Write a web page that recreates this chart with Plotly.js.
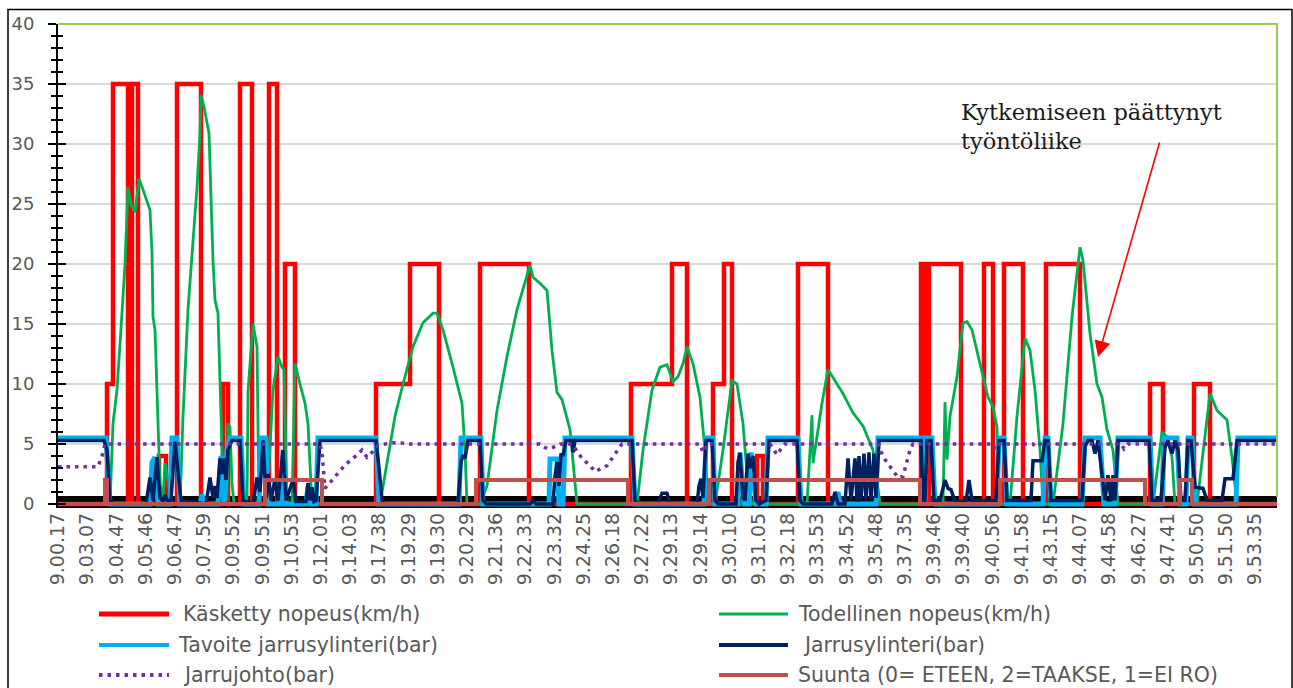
<!DOCTYPE html>
<html><head><meta charset="utf-8">
<script src="https://cdn.plot.ly/plotly-3.0.1.min.js"></script>
<style>html,body{margin:0;padding:0;background:#fff;}#chart{width:1293px;height:688px;}</style>
</head><body><div id="chart"></div>
<script>
// ---- data (x = sample index, y = value) ----
const timeLabels = ['9.00.17','9.03.07','9.04.47','9.05.46','9.06.47','9.07.59','9.09.52','9.09.51','9.10.53','9.12.01','9.14.03','9.17.38','9.19.29','9.19.30','9.20.29','9.21.36','9.22.33','9.23.32','9.24.25','9.26.18','9.27.22','9.29.13','9.29.14','9.30.10','9.31.05','9.32.18','9.33.53','9.34.52','9.35.48','9.37.35','9.39.46','9.39.40','9.40.56','9.41.58','9.43.15','9.44.07','9.44.58','9.46.27','9.47.41','9.50.50','9.51.50','9.53.35'];
const samplesPerLabel = 29.2;
const lastSample = 1219;

const kasketty = [[0,0],[49,10],[55,35],[70,0],[74,35],[80,0],[101,4],[108,0],[119,35],[143,0],[165,10],[170,0],[182,35],[194,0],[211,35],[219,0],[227,20],[237,0],[318,10],[352,20],[381,0],[422,20],[471,0],[573,10],[614,20],[629,0],[655,10],[666,20],[674,0],[699,4],[705,0],[740,20],[770,0],[863,20],[867,0],[871,20],[903,0],[926,20],[935,0],[946,20],[965,0],[988,20],[1022,0],[1092,10],[1105,0],[1136,10],[1152,0],[1219,0]];

const todellinen = [[0,0],[52,0],[55,6.7],[59,9.5],[64,15.9],[67,20],[70,26.4],[73,25],[77,24.3],[81,27.1],[85,26.2],[92,24.5],[94,20.9],[95,15.6],[97,14.5],[102,1.7],[105,0.4],[107,3.4],[110,2],[114,0],[122,0],[125,7.3],[130,16.2],[134,20.6],[139,26.4],[142,30.9],[143,34.1],[146,33.1],[151,30.9],[155,20.3],[157,17],[160,15.9],[162,9.4],[165,1.7],[169,0.3],[170,6.7],[172,6.4],[174,1.7],[176,0],[189,0],[190,9.4],[194,13.9],[195,15],[199,13.1],[201,0],[209,0],[215,9.5],[220,12.3],[224,11.4],[226,11.2],[229,0],[234,0],[237,11.7],[242,10],[247,8.4],[250,6.7],[254,0],[322,0],[329,3.4],[337,7.3],[345,10],[355,13.1],[365,15.1],[375,15.9],[379,15.9],[385,14.5],[395,11.4],[404,8.4],[407,4.5],[409,0],[422,0],[429,1.5],[439,7.8],[449,12.3],[459,16.2],[467,18.4],[472,19.9],[475,18.9],[482,18.4],[489,17.8],[494,12.8],[499,9.3],[504,8.7],[512,6.2],[519,0],[579,0],[585,4.5],[594,9.5],[602,11.4],[609,11.6],[615,10.2],[620,10.6],[625,11.7],[629,13.1],[635,11.7],[642,8.9],[647,4.5],[650,0],[657,0],[665,4.5],[674,10.3],[679,10],[685,6.7],[690,1.5],[694,0],[749,0],[754,7.4],[755,3.4],[759,5.6],[764,8.4],[770,11.2],[777,10.3],[785,9.2],[795,7.6],[805,6.5],[815,4.5],[822,0],[885,0],[887,8.5],[889,3.7],[892,7.3],[899,10.6],[905,15.1],[909,15.2],[914,14.5],[922,11.7],[930,8.9],[935,8.1],[939,6.4],[941,0],[952,0],[959,7.3],[967,13.8],[972,12.8],[977,9.5],[982,4.5],[985,0],[995,0],[1005,6.7],[1014,15.6],[1019,19.5],[1022,21.4],[1025,20.3],[1032,14.2],[1039,10],[1044,8.9],[1049,6.2],[1055,4.5],[1060,0],[1095,0],[1104,6],[1109,5.6],[1114,3.9],[1117,0],[1139,0],[1145,4.5],[1152,9.2],[1159,7.8],[1165,7.3],[1169,7],[1174,3.9],[1179,0],[1219,0]];

const tavoite = [[0,5.5],[48,5.5],[52,0],[92,0],[94,3.5],[97,3.9],[100,0],[112,0],[114,5.5],[119,5.5],[122,0],[142,0],[144,0.8],[146,0],[160,0],[163,4],[166,0],[169,4.5],[172,5.5],[183,5.5],[186,0],[201,0],[203,5.5],[208,5.5],[210,0],[223,0],[225,4.5],[228,0],[248,0],[250,1.5],[253,0],[258,0],[260,5.5],[318,5.5],[321,0],[401,0],[403,5.5],[423,5.5],[425,0],[491,0],[492,3.75],[499,3.75],[501,0],[505,0],[507,5.5],[574,5.5],[577,0],[646,0],[648,5.5],[655,5.5],[657,0],[680,0],[682,4.3],[686,0],[691,0],[693,4.3],[698,0],[708,0],[710,5.5],[740,5.5],[743,0],[778,0],[780,1],[782,0],[818,0],[820,5.5],[864,5.5],[867,0],[868,5.5],[874,5.5],[877,0],[939,0],[941,5.5],[946,5.5],[949,0],[985,0],[987,5.5],[990,5.5],[993,0],[1024,0],[1027,5.5],[1042,5.5],[1046,0],[1057,0],[1060,5.5],[1092,5.5],[1095,0],[1104,0],[1106,5.5],[1119,5.5],[1122,0],[1128,0],[1130,5.5],[1134,5.5],[1137,0],[1178,0],[1180,5.5],[1219,5.5]];

const jarrusylinteri = [[0,5.3],[46,5.3],[49,4.5],[52,0.3],[55,0],[88,0],[92,2.2],[95,0.3],[99,3.9],[102,0.5],[105,0.3],[107,0.75],[110,0.2],[113,0.3],[117,5.2],[120,3],[123,0.3],[148,0],[152,2.2],[155,0.5],[157,1.5],[159,0.5],[162,3.8],[164,2.5],[166,3.8],[168,2],[170,4.5],[174,5.3],[182,5.3],[185,0.3],[195,0],[199,2.2],[202,1],[205,5.3],[208,0.5],[210,2.5],[213,0.3],[217,2.1],[220,0.3],[225,4.5],[228,0.3],[235,2],[238,0.2],[248,0.2],[250,1.75],[252,0.3],[254,1.4],[256,0.2],[258,0.3],[262,5.3],[318,5.3],[321,3],[324,0.3],[328,0],[400,0],[403,3.5],[405,4.1],[407,3.8],[410,5.3],[422,5.3],[425,0.3],[428,0],[472,0],[475,0.3],[478,0],[495,0],[497,2.3],[499,3.5],[501,1.5],[503,4.2],[505,4],[508,5.3],[514,5.3],[515,4.3],[517,5.3],[574,5.3],[577,0.3],[580,0],[600,0],[604,0.9],[609,0.9],[612,0],[639,0],[641,1.5],[643,2.1],[645,0.5],[648,5.3],[654,5.3],[657,0.3],[660,0],[678,0],[680,3.5],[682,4.25],[685,0.5],[687,0.3],[690,4.2],[692,3],[695,4],[698,0.3],[701,0],[708,0.3],[711,5.3],[739,5.3],[742,0.3],[745,0],[774,0],[777,1],[780,0],[787,0],[790,3.8],[793,0.3],[797,3.8],[799,0.2],[801,4],[803,0.3],[806,4.2],[808,0.3],[811,4.3],[813,0.3],[816,4.2],[818,0.5],[821,5.3],[863,5.3],[865,0.3],[867,0.3],[869,5.3],[873,5.3],[876,0.3],[882,0.3],[887,2],[890,1.3],[893,1.2],[897,0.2],[908,0.2],[911,2],[914,0.3],[938,0.3],[941,5.3],[946,5.3],[949,0.3],[973,0.3],[975,3.6],[984,3.6],[987,5.3],[990,5.3],[993,0.3],[1024,0.3],[1027,4.8],[1030,5.3],[1034,5.3],[1037,4.2],[1040,5.3],[1044,2.4],[1047,0.3],[1050,2.4],[1053,0.3],[1055,2.4],[1057,0.3],[1060,5.3],[1091,5.3],[1094,0.3],[1103,0.3],[1107,4.7],[1110,5.3],[1114,4.2],[1117,5.3],[1120,4.5],[1123,0.3],[1127,0.3],[1130,5.3],[1133,5.3],[1137,1.4],[1145,1.3],[1149,0.3],[1164,0.3],[1167,2.1],[1175,2.1],[1179,5.3],[1219,5.3]];

const jarrujohto = [[0,3.1],[40,3.1],[44,4],[47,5],[262,5],[264,4.3],[267,1.3],[277,2.3],[282,2.8],[287,3.25],[299,4.1],[304,4.5],[309,3.9],[314,4.3],[320,4.9],[334,5.1],[342,5.1],[352,5],[482,5],[487,4.7],[492,4.6],[502,5],[514,5],[519,4.4],[524,3.8],[532,3.2],[537,2.7],[542,2.9],[549,3.2],[554,3.8],[559,4.4],[564,5],[642,5],[645,4.3],[650,5],[712,5],[716,4.5],[719,4.1],[723,4.6],[727,5],[820,5],[822,4.5],[827,3.7],[835,2.7],[840,2.2],[845,2.3],[849,3.6],[852,4.5],[855,5],[935,5],[937,4.6],[940,5],[975,5],[977,4.8],[980,5],[1063,5],[1066,4.6],[1070,5],[1219,5]];

const suunta = [[0,0],[47,2],[49,0],[207,2],[264,0],[418,2],[570,0],[651,2],[862,0],[942,2],[1087,0],[1122,2],[1134,0],[1219,0]];

const seriesNames = ['Käsketty nopeus(km/h)','Todellinen nopeus(km/h)','Tavoite jarrusylinteri(bar)','Jarrusylinteri(bar)','Jarrujohto(bar)','Suunta (0= ETEEN, 2=TAAKSE, 1=EI RO)'];
const annotationText = 'Kytkemiseen päättynyt<br>työntöliike';
const arrowHead = [1040, 12.25];

// ---- layout geometry ----
const W = 1293, H = 688, ML = 58, MR = 16, MT = 24, MB = 180;
const PW = W - ML - MR, PH = H - MT - MB;
const pxX = p => (p - ML) / PW;
const pxY = p => (H - MB - p) / PH;

const styles = [
  {color:'#ff0000', width:4.5, shape:'hv'},
  {color:'#00b050', width:2.8},
  {color:'#00b0f0', width:5},
  {color:'#002060', width:3.5},
  {color:'#7030a0', width:3.5, dash:'3.5px,5px'},
  {color:'#c0504d', width:4, shape:'hv'}
];
const seriesData = [kasketty, todellinen, tavoite, jarrusylinteri, jarrujohto, suunta];

const traces = seriesData.map((d, i) => ({
  type:'scatter', mode:'lines', name: seriesNames[i],
  x: d.map(p => p[0]), y: d.map(p => p[1]),
  line: styles[i], hoverinfo:'skip'
}));
traces.push({type:'scatter', mode:'lines', x:[0], y:[0], yaxis:'y2', showlegend:false, hoverinfo:'skip', line:{width:0}});

const shapes = [
  {type:'rect', xref:'x', yref:'y', x0:0, x1:lastSample, y0:-0.34, y1:0.67, fillcolor:'#000', line:{width:0}, layer:'below'},
  {type:'path', xref:'paper', yref:'paper', path:`M0,1 L1,1 L1,${pxY(497)}`, line:{color:'#92d050', width:2}},
  {type:'rect', xref:'paper', yref:'paper', x0:pxX(8), x1:pxX(1292), y0:pxY(720), y1:pxY(9.5), line:{color:'#000', width:1.5}, fillcolor:'rgba(0,0,0,0)'}
];
const annotations = [
  {xref:'x', yref:'y', x:arrowHead[0], y:arrowHead[1], ax:62, ay:-216, text:'', showarrow:true, arrowcolor:'#ff0000', arrowhead:2, arrowsize:2, arrowwidth:1.6, standoff:0},
  {xref:'paper', yref:'paper', x:pxX(959), y:pxY(97), xanchor:'left', yanchor:'top', align:'left', showarrow:false, text:annotationText, font:{family:'DejaVu Serif', size:22.5, color:'#1a1a1a'}}
];
// legend (2 columns x 3 rows)
const legCols = [{l0:99, l1:169, t:181}, {l0:719, l1:788, t:796}];
const legRows = [614, 645, 675];
const legTextShift = [0, 0, -5, 5, 0, 0];
seriesNames.forEach((n, i) => {
  const c = legCols[i % 2], r = legRows[Math.floor(i / 2)];
  const st = styles[i];
  shapes.push({type:'line', xref:'paper', yref:'paper', x0:pxX(c.l0), x1:pxX(c.l1), y0:pxY(r), y1:pxY(r),
    line:{color:st.color, width: i===1 ? 3 : (i===0 ? 5 : 4), dash: st.dash || 'solid'}});
  annotations.push({xref:'paper', yref:'paper', x:pxX(c.t + legTextShift[i]), y:pxY(r), xanchor:'left', yanchor:'middle', showarrow:false,
    text:n, font:{family:'DejaVu Sans', size:20.5, color:'#595959'}});
});

const layout = {
  width:W, height:H, margin:{l:ML, r:MR, t:MT, b:MB},
  paper_bgcolor:'#fff', plot_bgcolor:'#fff', showlegend:false,
  xaxis:{range:[0,lastSample], tickmode:'array', tickvals: timeLabels.map((_, i) => i * samplesPerLabel), ticktext: timeLabels,
    tickangle:-90, tickfont:{family:'DejaVu Sans', size:19, color:'#595959'}, showgrid:false, zeroline:false, showline:false, ticks:''},
  yaxis:{range:[-1/3, 40], tick0:0, dtick:5, ticks:'outside', ticklen:8, tickwidth:2, tickcolor:'#000',
    showline:true, linecolor:'#000', linewidth:2, gridcolor:'#d9d9d9', gridwidth:1.5, zeroline:false,
    tickfont:{family:'DejaVu Sans', size:18, color:'#595959'}, ticklabelstandoff:10,
    minor:{dtick:1, tick0:0, ticks:'outside', ticklen:5, tickwidth:1.5, tickcolor:'#000', showgrid:false}},
  yaxis2:{overlaying:'y', side:'left', range:[-1/3, 40], tick0:0, dtick:5, ticks:'inside', ticklen:8, tickwidth:2, tickcolor:'#000',
    showticklabels:false, showgrid:false, zeroline:false, showline:false,
    minor:{dtick:1, tick0:0, ticks:'inside', ticklen:5, tickwidth:1.5, tickcolor:'#000', showgrid:false}},
  shapes, annotations
};
Plotly.newPlot('chart', traces, layout, {staticPlot:true, displayModeBar:false});
</script></body></html>
